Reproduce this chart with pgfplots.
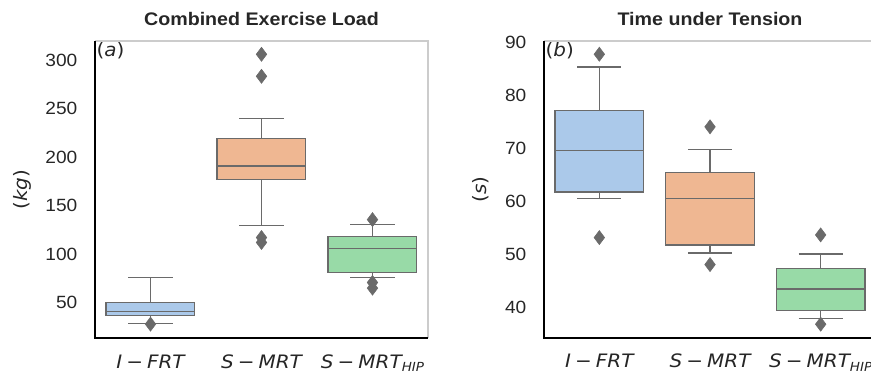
\documentclass[border=0pt]{standalone}
\usepackage{fontspec}
\setmainfont{Liberation Sans}[FakeStretch=1.08]
\newfontfamily\dvs{DejaVu Sans}[FakeStretch=1.08]
\usepackage{pgfplots}
\pgfplotsset{compat=1.18}
\definecolor{cblue}{HTML}{ABC9EA}
\definecolor{corange}{HTML}{EFB792}
\definecolor{cgreen}{HTML}{98DAA7}
\definecolor{lgray}{HTML}{6A6A6A}
\definecolor{spinec}{HTML}{CCCCCC}
\definecolor{txt}{HTML}{262626}
\newcommand{\lab}[1]{{\dvs\fontsize{18.5}{22}\selectfont\itshape #1}}
\newcommand{\sbs}[1]{\raisebox{-3.6pt}{\fontsize{12.5}{14}\selectfont #1}}
\newcommand{\mm}{\hspace{0.22em}−\hspace{0.22em}}
\pgfplotsset{
 mystyle/.style={
  scale only axis, anchor=south west,
  xmin=-0.5, xmax=2.5,
  xtick={0,1,2},
  xticklabels={\lab{I\mm FRT},\lab{S\mm MRT},\lab{S\mm MRT\sbs{HIP}}},
  axis line style={draw=none},
  tick style={draw=none},
  /pgf/number format/assume math mode=true,
  yticklabel style={font=\fontsize{17.7}{20}\selectfont, text=txt, anchor=east, inner sep=0pt, xshift=-17.5pt},
  xticklabel style={anchor=base, inner sep=0pt, yshift=-30pt, text=txt},
  title style={font=\fontsize{18.2}{20}\selectfont\bfseries, text=txt, at={(0.5,1)}, anchor=base, yshift=10pt},
  unbounded coords=jump,
 },
 bx/.style={draw=lgray, line width=1.2pt, fill=#1, mark=none},
 ln/.style={draw=lgray, line width=1.2pt, mark=none},
 outl/.style={only marks, mark=diamond*, mark size=7pt, mark options={draw=lgray, fill=lgray, line width=0.6pt, solid}},
}
\begin{document}
\begin{tikzpicture}
% ---------------- panel (a)
\begin{axis}[mystyle, name=A,
  at={(95pt,-338pt)}, width=333pt, height=297pt,
  ymin=13.5, ymax=319.6, ytick={50,100,150,200,250,300},
  title={Combined Exercise Load},
  ylabel={\dvs\fontsize{18.5}{22}\selectfont(\textit{kg})},
  ylabel style={at={(axis description cs:-0.2192,0.5)}, anchor=center, text=txt},
]
% I-FRT: lw 28.5, q1 36.6, med 40.7, q3 50.4, uw 75.8
\addplot[ln] coordinates {(0,28.5) (0,36.6) (nan,nan) (0,50.4) (0,75.8) (nan,nan) (-0.2,28.5) (0.2,28.5) (nan,nan) (-0.2,75.8) (0.2,75.8)};
\addplot[bx=cblue] coordinates {(-0.4,36.6) (0.4,36.6) (0.4,50.4) (-0.4,50.4)} -- cycle;
\addplot[ln] coordinates {(-0.4,40.7) (0.4,40.7)};
% S-MRT: lw 129.8, q1 177, med 190.8, q3 219, uw 239.8
\addplot[ln] coordinates {(1,129.8) (1,177) (nan,nan) (1,219) (1,239.8) (nan,nan) (0.8,129.8) (1.2,129.8) (nan,nan) (0.8,239.8) (1.2,239.8)};
\addplot[bx=corange] coordinates {(0.6,177) (1.4,177) (1.4,219) (0.6,219)} -- cycle;
\addplot[ln] coordinates {(0.6,190.8) (1.4,190.8)};
% S-MRT_HIP: lw 75.8, q1 81.2, med 105.9, q3 118.1, uw 130.5
\addplot[ln] coordinates {(2,75.8) (2,81.2) (nan,nan) (2,118.1) (2,130.5) (nan,nan) (1.8,75.8) (2.2,75.8) (nan,nan) (1.8,130.5) (2.2,130.5)};
\addplot[bx=cgreen] coordinates {(1.6,81.2) (2.4,81.2) (2.4,118.1) (1.6,118.1)} -- cycle;
\addplot[ln] coordinates {(1.6,105.9) (2.4,105.9)};
\addplot[outl] coordinates {(0,27.8) (1,305.9) (1,283.2) (1,117) (1,112) (2,135.5) (2,70.7) (2,64.9)};
\node[anchor=north west, inner sep=1.5pt, text=txt] at (rel axis cs:0,1) {\dvs\fontsize{18.5}{22}\selectfont(\textit{a})};
\end{axis}
\draw[spinec, line width=1.5pt] (A.north west) -- (A.north east) -- (A.south east);
\draw[black, line width=2pt] (A.north west) -- (A.south west) -- (A.south east);
% ---------------- panel (b)
\begin{axis}[mystyle, name=B,
  at={(544pt,-337.7pt)}, width=332pt, height=296.7pt,
  ymin=34.3, ymax=90.3, ytick={40,50,60,70,80,90},
  title={Time under Tension},
  ylabel={\dvs\fontsize{18.5}{22}\selectfont(\textit{s})},
  ylabel style={at={(axis description cs:-0.1898,0.5)}, anchor=center, text=txt},
]
% I-FRT: lw 60.6, q1 61.8, med 69.7, q3 77.2, uw 85.4
\addplot[ln] coordinates {(0,60.6) (0,61.8) (nan,nan) (0,77.2) (0,85.4) (nan,nan) (-0.2,60.6) (0.2,60.6) (nan,nan) (-0.2,85.4) (0.2,85.4)};
\addplot[bx=cblue] coordinates {(-0.4,61.8) (0.4,61.8) (0.4,77.2) (-0.4,77.2)} -- cycle;
\addplot[ln] coordinates {(-0.4,69.7) (0.4,69.7)};
% S-MRT: lw 50.3, q1 51.8, med 60.5, q3 65.5, uw 69.8
\addplot[ln] coordinates {(1,50.3) (1,51.8) (nan,nan) (1,65.5) (1,69.8) (nan,nan) (0.8,50.3) (1.2,50.3) (nan,nan) (0.8,69.8) (1.2,69.8)};
\addplot[bx=corange] coordinates {(0.6,51.8) (1.4,51.8) (1.4,65.5) (0.6,65.5)} -- cycle;
\addplot[ln] coordinates {(0.6,60.5) (1.4,60.5)};
% S-MRT_HIP: lw 37.9, q1 39.5, med 43.5, q3 47.4, uw 50.1
\addplot[ln] coordinates {(2,37.9) (2,39.5) (nan,nan) (2,47.4) (2,50.1) (nan,nan) (1.8,37.9) (2.2,37.9) (nan,nan) (1.8,50.1) (2.2,50.1)};
\addplot[bx=cgreen] coordinates {(1.6,39.5) (2.4,39.5) (2.4,47.4) (1.6,47.4)} -- cycle;
\addplot[ln] coordinates {(1.6,43.5) (2.4,43.5)};
\addplot[outl] coordinates {(0,87.8) (0,53.2) (1,74.1) (1,48.1) (2,53.7) (2,36.85)};
\node[anchor=north west, inner sep=1.5pt, text=txt] at (rel axis cs:0,1) {\dvs\fontsize{18.5}{22}\selectfont(\textit{b})};
\end{axis}
\draw[spinec, line width=1.5pt] (B.north west) -- (B.north east);
\draw[black, line width=2pt] (B.north west) -- (B.south west) -- (B.south east);
\pgfresetboundingbox
\path[use as bounding box] (0pt,0pt) rectangle (871pt,-374pt);
\end{tikzpicture}
\end{document}
